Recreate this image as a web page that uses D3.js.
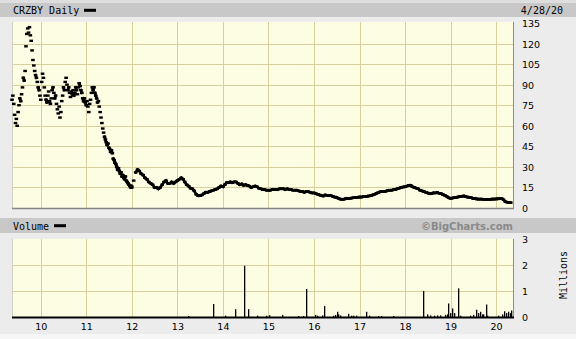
<!DOCTYPE html>
<html><head><meta charset="utf-8">
<script src="https://cdn.jsdelivr.net/npm/d3@7"></script>
<style>body{margin:0;background:#ececec;} svg{display:block}</style>
</head><body><svg id="c" width="576" height="339"></svg>
<script>
// ---------- data ----------
const titleText = "CRZBY Daily";
const volumeTitle = "Volume";
const creditText = "\u00A9BigCharts.com";
const asOfLabel = "4/28/20";
const unitsLabel = "Millions";
const priceTicks = [0, 15, 30, 45, 60, 75, 90, 105, 120, 135];
const volumeTicks = [0, 1, 2, 3];
const yearTickDates = ["2010-01-01","2011-01-01","2012-01-01","2013-01-01","2014-01-01","2015-01-01","2016-01-01","2017-01-01","2018-01-01","2019-01-01","2020-01-01"];
const yearTickLabels = ["10","11","12","13","14","15","16","17","18","19","20"];
const domainStart = "2009-05-15";
const domainEnd = "2020-05-16";

// weekly closes from 2009-05-15 through 2011-12-30
const weeklyStart = "2009-05-15";
const weeklyValues = [
  79, 82, 76, 68, 62, 65, 60, 70, 75, 80, 78, 83, 88, 95, 93, 100, 118, 127, 131,
  128, 132, 126, 122, 115, 108, 104, 100, 97, 95, 92, 88, 86,
  82, 79, 92, 98, 95, 88, 82, 79, 77, 82, 85, 78, 76, 80, 86, 88, 84, 80, 82,
  76, 72, 69, 74, 66, 70, 78, 82, 88, 86, 92, 95, 90, 86, 88, 84, 81, 85, 83, 86,
  82, 84, 88, 86, 83, 88, 91, 89, 86, 84, 80, 78, 80, 77, 75,
  78, 74, 70, 76, 79, 84, 88, 86, 88, 84, 82, 80, 77, 78, 74, 70, 66, 62, 58, 55, 52,
  50, 48, 46, 47, 44, 43, 41, 42, 40, 36, 35, 33, 32, 30, 28, 29, 27, 25, 26, 23, 24,
  22, 21, 23, 20, 19, 18, 17, 16, 15, 16
];
// semi-monthly closes (1st and 16th) from 2012-01-01, last point dated 2020-04-28
const semiStart = "2012-01-01";
const priceLastDate = "2020-04-28";
const semiValues = [
  // 2012
  15, 20, 26, 28, 27, 25, 24, 22, 21, 19, 18, 17, 15, 15, 14, 15, 17, 19, 20, 18, 18, 19, 18, 19,
  // 2013
  20, 21, 22, 21, 19, 17, 16, 14.5, 14, 12.5, 10, 9, 9, 9.5, 10.5, 11.5, 11.5, 12, 12.5, 13, 13.5, 14, 15, 16,
  // 2014
  15.5, 17, 18.5, 18.5, 19, 18.5, 19, 19, 18, 17, 17.5, 16.5, 17, 16.5, 16, 15, 15.5, 16, 15.5, 14.5, 14, 13.5, 13.5, 13,
  // 2015
  13, 13, 13.5, 13.5, 13.5, 13.5, 14, 14, 14, 13.5, 14, 13.5, 13.5, 13, 13, 13, 12.5, 12, 12, 11.5, 12, 12, 11.5, 11,
  // 2016
  11, 10.5, 10, 9.5, 9, 8.8, 9.5, 9.2, 9, 9, 8.5, 8, 7.8, 7, 6.5, 6.3, 6.5, 7, 7, 7.1, 7.3, 7.5, 7.6, 7.8,
  // 2017
  8, 8, 8.3, 8.3, 8.5, 8.8, 9, 9.5, 10, 10.7, 11.2, 11.8, 12, 12, 12.3, 12.8, 13, 13, 13.3, 13.6, 14, 14.5, 15, 15.3,
  // 2018
  15.5, 16, 16.5, 16.5, 15.5, 15, 14.5, 14, 13, 12.5, 12, 11.5, 11, 10.5, 10.5, 11, 11, 11.3, 10.8, 10.5, 9.8, 9.2, 8.5, 7.5,
  // 2019
  7, 7.3, 7.5, 7.8, 8, 8.3, 8.5, 8.8, 8.5, 8, 7.8, 7.5, 7, 6.8, 6.6, 6.5, 6.5, 6.4, 6.3, 6.3, 6.3, 6.3, 6.5, 6.5,
  // 2020 Jan1 .. Apr16, Apr28
  6.6, 6.7, 6.8, 6.8, 6.0, 4.6, 4.2, 4.0, 3.9
];

// daily volume spikes (millions of shares)
const volumeDates = ["2013-03-25","2013-10-16","2014-01-18","2014-04-10","2014-06-22","2014-07-19","2014-10-02","2014-12-13","2015-01-08","2015-04-22","2015-08-26","2015-10-03","2015-11-01","2016-01-09","2016-01-23","2016-03-03","2016-03-24","2016-06-02","2016-06-18","2016-07-02","2016-07-12","2016-07-28","2016-10-03","2016-10-22","2016-11-12","2016-12-01","2017-02-25","2017-03-18","2017-05-29","2017-06-22","2017-09-28","2018-05-27","2018-06-23","2018-07-19","2018-08-20","2018-09-13","2018-10-07","2018-11-16","2018-11-30","2018-12-12","2018-12-26","2019-01-14","2019-01-28","2019-03-04","2019-03-17","2019-06-06","2019-07-02","2019-07-24","2019-08-11","2019-08-25","2019-09-07","2019-09-20","2019-10-12","2019-10-22","2020-01-18","2020-02-14","2020-03-04","2020-03-20","2020-04-08","2020-04-21","2020-04-28"];
const volumeValues = [0.03, 0.5, 0.05, 0.3, 1.97, 0.3, 0.05, 0.05, 0.07, 0.08, 0.04, 0.04, 1.08, 0.08, 0.05, 0.06, 0.42, 0.05, 0.08, 0.2, 0.1, 0.06, 0.12, 0.05, 0.05, 0.05, 0.2, 0.05, 0.04, 0.04, 0.04, 1.0, 0.1, 0.06, 0.05, 0.06, 0.06, 0.08, 0.1, 0.52, 0.15, 0.33, 0.15, 1.1, 0.05, 0.05, 0.08, 0.28, 0.15, 0.2, 0.1, 0.1, 0.48, 0.05, 0.05, 0.1, 0.22, 0.15, 0.2, 0.15, 0.25];

// ---------- build ----------
const parse = d3.timeParse("%Y-%m-%d");
const prices = [];
{
  const w0 = parse(weeklyStart);
  weeklyValues.forEach((v, i) => prices.push({date: d3.timeDay.offset(w0, 7 * i), v}));
  let d = parse(semiStart);
  for (let i = 0; i < semiValues.length - 1; i++) {
    prices.push({date: d, v: semiValues[i]});
    d = d.getDate() === 16 ? new Date(d.getFullYear(), d.getMonth() + 1, 1) : new Date(d.getFullYear(), d.getMonth(), 16);
  }
  prices.push({date: parse(priceLastDate), v: semiValues[semiValues.length - 1]});
}
const volumes = volumeValues.map((v, i) => ({date: parse(volumeDates[i]), v}));

const W = 576, H = 339;
const plotL = 12, plotR = 513;
const pTop = 22, pBot = 208;
const vTop = 239, vBot = 317;

const svg = d3.select("#c");
const x = d3.scaleTime().domain([parse(domainStart), parse(domainEnd)]).range([plotL, plotR]);
const yP = d3.scaleLinear().domain([0, 135]).range([208, 23]);
const yV = d3.scaleLinear().domain([0, 3]).range([317, 239]);

const mono = "'DejaVu Sans Mono', monospace";
const sans = "'DejaVu Sans', Verdana, sans-serif";

// background
svg.append("rect").attr("width", W).attr("height", H).attr("fill", "#ececec");
svg.append("rect").attr("x", 0).attr("y", 0).attr("width", W).attr("height", 3).attr("fill", "#dedede");
svg.append("rect").attr("x", 0).attr("y", 3).attr("width", W).attr("height", 14).attr("fill", "#c8c8c8");
svg.append("text").attr("x", 13).attr("y", 10.5).attr("dominant-baseline", "central")
  .attr("font-family", mono).attr("font-size", 10).attr("fill", "#000").text(titleText);
svg.append("rect").attr("x", 84).attr("y", 8.8).attr("width", 12).attr("height", 3).attr("fill", "#000");
svg.append("text").attr("x", 563).attr("y", 10.5).attr("dominant-baseline", "central").attr("text-anchor", "end")
  .attr("font-family", mono).attr("font-size", 10).attr("fill", "#000").text(asOfLabel);

// volume header
svg.append("rect").attr("x", 0).attr("y", 218).attr("width", W).attr("height", 15).attr("fill", "#c8c8c8");
svg.append("text").attr("x", 13).attr("y", 226).attr("dominant-baseline", "central")
  .attr("font-family", mono).attr("font-size", 10).attr("fill", "#000").text(volumeTitle);
svg.append("rect").attr("x", 54).attr("y", 224.2).attr("width", 12).attr("height", 3).attr("fill", "#000");
svg.append("text").attr("x", 513).attr("y", 226).attr("dominant-baseline", "central").attr("text-anchor", "end")
  .attr("font-family", sans).attr("font-weight", "bold").attr("font-size", 10).attr("fill", "#8a8a8a").text(creditText);

// plot panels
function panel(top, bot, yScale, ticks) {
  const g = svg.append("g");
  g.append("rect").attr("x", plotL).attr("y", top).attr("width", plotR - plotL).attr("height", bot - top).attr("fill", "#fdfde3");
  g.selectAll(".hg").data(ticks.filter(t => yScale(t) > top + 3 && yScale(t) < bot - 1)).join("line")
    .attr("x1", plotL).attr("x2", plotR).attr("y1", d => Math.round(yScale(d)) + 0.5).attr("y2", d => Math.round(yScale(d)) + 0.5)
    .attr("stroke", "#d6d09c").attr("stroke-width", 1);
  g.selectAll(".vg").data(yearTickDates).join("line")
    .attr("x1", d => Math.round(x(parse(d))) + 0.5).attr("x2", d => Math.round(x(parse(d))) + 0.5)
    .attr("y1", top).attr("y2", bot).attr("stroke", "#d6d09c").attr("stroke-width", 1);
  g.append("line").attr("x1", plotL + 0.5).attr("x2", plotL + 0.5).attr("y1", top).attr("y2", bot).attr("stroke", "#d0d0c0");
  g.append("line").attr("x1", plotR + 0.5).attr("x2", plotR + 0.5).attr("y1", top).attr("y2", bot + 1).attr("stroke", "#8c8c8c");
  return g;
}
panel(pTop, pBot, yP, priceTicks);
panel(vTop, vBot, yV, volumeTicks);
svg.append("line").attr("x1", plotL).attr("x2", plotR + 1).attr("y1", pBot + 0.5).attr("y2", pBot + 0.5).attr("stroke", "#858585").attr("stroke-width", 1.5);

// right axis labels
svg.append("g").selectAll("text").data(priceTicks).join("text")
  .attr("x", 522).attr("y", d => yP(d) + 0.5).attr("dominant-baseline", "central")
  .attr("font-family", sans).attr("font-size", 9.5).attr("fill", "#000").text(d => d);
svg.append("g").selectAll("text").data(volumeTicks).join("text")
  .attr("x", 522).attr("y", d => yV(d)).attr("dominant-baseline", "central")
  .attr("font-family", sans).attr("font-size", 9.5).attr("fill", "#000").text(d => d);
svg.append("text").attr("transform", "translate(563,275) rotate(-90)").attr("text-anchor", "middle")
  .attr("dominant-baseline", "central").attr("font-family", mono).attr("font-size", 10).attr("fill", "#000").text(unitsLabel);

// x labels
svg.append("g").selectAll("text").data(yearTickDates).join("text")
  .attr("x", d => x(parse(d)) + 0.5).attr("y", 326).attr("text-anchor", "middle").attr("dominant-baseline", "central")
  .attr("font-family", sans).attr("font-size", 9.5).attr("fill", "#000").text((d, i) => yearTickLabels[i]);

// price: connected segments where change is small, dashes per point
const segs = [];
for (let i = 1; i < prices.length; i++) {
  const a = prices[i - 1], b = prices[i];
  if (Math.abs(yP(a.v) - yP(b.v)) <= 3.5) segs.push([a, b]);
}
const pg = svg.append("g");
pg.selectAll("line").data(segs).join("line")
  .attr("x1", d => x(d[0].date)).attr("y1", d => yP(d[0].v))
  .attr("x2", d => x(d[1].date)).attr("y2", d => yP(d[1].v))
  .attr("stroke", "#000").attr("stroke-width", 2.6).attr("stroke-linecap", "square");
pg.selectAll("rect").data(prices).join("rect")
  .attr("x", d => x(d.date) - 1.8).attr("y", d => yP(d.v) - 1.2)
  .attr("width", 3.6).attr("height", 2.4).attr("fill", "#000");

// volume bars
svg.append("g").selectAll("rect").data(volumes).join("rect")
  .attr("x", d => Math.round(x(d.date))).attr("width", 1.3)
  .attr("y", d => Math.min(yV(d.v), vBot - 1)).attr("height", d => Math.max(vBot - yV(d.v), 1))
  .attr("fill", "#000");
svg.append("line").attr("x1", plotL).attr("x2", plotR + 1).attr("y1", vBot + 0.5).attr("y2", vBot + 0.5).attr("stroke", "#000").attr("stroke-width", 2);

// bottom strip
svg.append("rect").attr("x", 0).attr("y", 334).attr("width", W).attr("height", 5).attr("fill", "#f6f6f6");
</script></body></html>
